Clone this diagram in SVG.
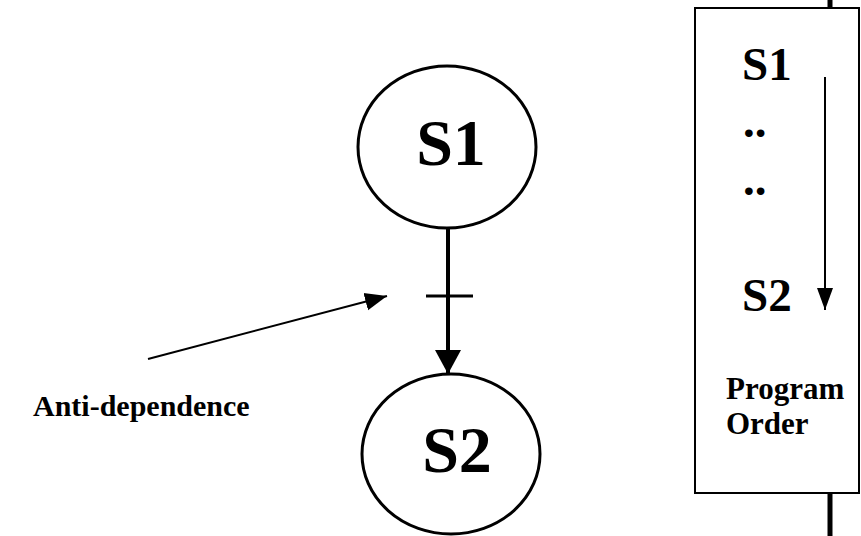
<svg xmlns="http://www.w3.org/2000/svg" width="861" height="536" viewBox="0 0 861 536">
  <style>
    .node { fill: #ffffff; stroke: #000000; stroke-width: 3; }
    .big { font-family: "Liberation Serif", "Times New Roman", serif; font-weight: bold; font-size: 66px; fill: #000000; }
    .mid { font-family: "Liberation Serif", "Times New Roman", serif; font-weight: bold; font-size: 47px; fill: #000000; }
    .lbl { font-family: "Liberation Serif", "Times New Roman", serif; font-weight: bold; font-size: 30px; fill: #000000; }
    .lbl2 { font-family: "Liberation Serif", "Times New Roman", serif; font-weight: bold; font-size: 31px; fill: #000000; }
    .edge { stroke: #000000; fill: none; }
  </style>
  <defs>
    <marker id="headBig" markerUnits="userSpaceOnUse" markerWidth="26" markerHeight="26" viewBox="0 0 26 26" refX="24" refY="13" orient="auto">
      <path d="M0,0 L24,13 L0,26 Z" fill="#000000"/>
    </marker>
    <marker id="headSmall" markerUnits="userSpaceOnUse" markerWidth="22" markerHeight="22" viewBox="0 0 22 22" refX="22" refY="11" orient="auto">
      <path d="M0,2 L22,11 L0,20 Z" fill="#000000"/>
    </marker>
    <marker id="headThin" markerUnits="userSpaceOnUse" markerWidth="22" markerHeight="16" viewBox="0 0 22 16" refX="22" refY="8" orient="auto">
      <path d="M0,0 L22,8 L0,16 Z" fill="#000000"/>
    </marker>
  </defs>

  <!-- statement S1 -->
  <g id="node-s1">
    <ellipse class="node" cx="447" cy="147" rx="89" ry="81"/>
    <text class="big" x="451" y="165" text-anchor="middle">S1</text>
  </g>

  <!-- statement S2 -->
  <g id="node-s2">
    <ellipse class="node" cx="451" cy="454" rx="89" ry="80"/>
    <text class="big" x="457" y="472" text-anchor="middle">S2</text>
  </g>

  <!-- program order panel -->
  <g id="program-order">
    <line class="edge" x1="830" y1="0" x2="830" y2="9" stroke-width="5"/>
    <line class="edge" x1="830" y1="492" x2="830" y2="536" stroke-width="5"/>
    <rect x="695" y="8" width="164" height="485" fill="#ffffff" stroke="#000000" stroke-width="2"/>
    <text class="mid" x="742" y="80">S1</text>
    <text class="mid" x="743" y="137">..</text>
    <text class="mid" x="743" y="195">..</text>
    <text class="mid" x="742" y="311">S2</text>
    <text class="lbl2" x="726" y="399">Program</text>
    <text class="lbl2" x="726" y="434">Order</text>
    <line class="edge" x1="825" y1="77" x2="825" y2="310" stroke-width="2" marker-end="url(#headThin)"/>
  </g>

  <!-- label -->
  <g id="label-anti">
    <text class="lbl" x="33" y="416">Anti-dependence</text>
  </g>

  <g id="connectors">
    <line class="edge" x1="448" y1="229" x2="448" y2="374" stroke-width="4" marker-end="url(#headBig)"/>
    <line class="edge" x1="426" y1="296" x2="473" y2="296" stroke-width="3"/>
    <line class="edge" x1="148" y1="359" x2="387" y2="296" stroke-width="2" marker-end="url(#headSmall)"/>
  </g>
</svg>
